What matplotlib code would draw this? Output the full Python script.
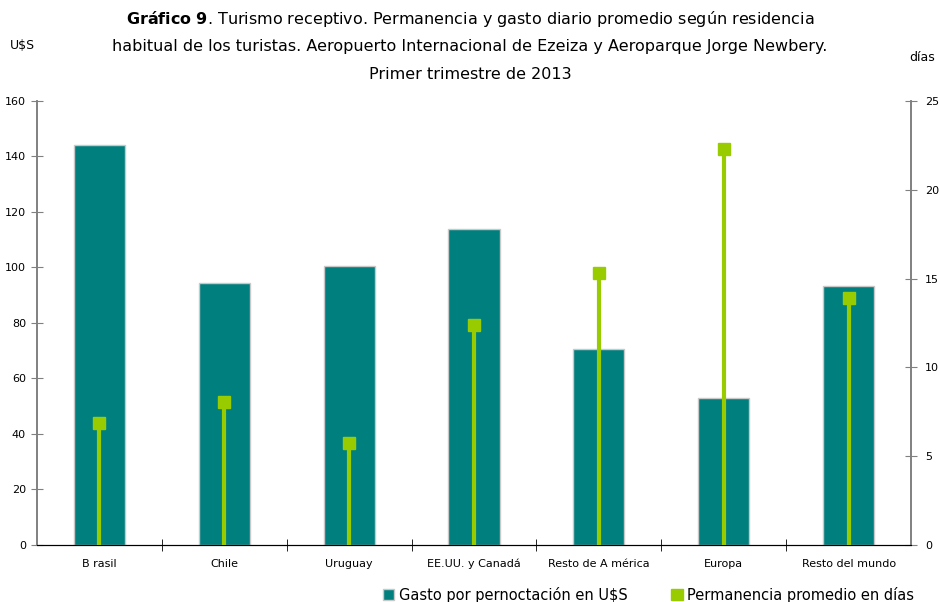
import matplotlib
matplotlib.use("Agg")
import matplotlib.pyplot as plt
import numpy as np
from matplotlib.patches import Patch

categories = ["B rasil", "Chile", "Uruguay", "EE.UU. y Canadá", "Resto de A mérica", "Europa", "Resto del mundo"]
gasto = [144.1, 94.4, 100.5, 113.9, 70.6, 53.0, 93.3]
permanencia = [6.87, 8.05, 5.74, 12.39, 15.3, 22.3, 13.9]

teal = "#007F7F"
green = "#99CC00"

plt.rcParams['font.family'] = ['DejaVu Sans']
fig = plt.figure(figsize=(9.4, 6.02), dpi=100)
ax = fig.add_axes([0.0394, 0.0947, 0.9298, 0.7376])
ax2 = ax.twinx()

x = np.arange(len(categories))
ax.bar(x, gasto, width=0.41, color=teal, edgecolor="#C8C8C8", linewidth=1.0, zorder=2)
ax.set_xlim(-0.5, len(categories) - 0.5)
ax.set_ylim(0, 160)
ax.set_yticks(range(0, 161, 20))
ax.set_yticklabels([str(v) for v in range(0, 161, 20)], fontsize=8)
ax.set_xticks(x)
ax.set_xticklabels(categories, fontsize=8)
ax.tick_params(axis="x", length=0, pad=10)
ax.set_xticks(np.arange(0.5, len(categories) - 1, 1), minor=True)
ax.tick_params(axis="x", which="minor", length=8, direction="inout", color="black")
ax.tick_params(axis="y", length=8, direction="inout", color="#808080", pad=4)

ax2.vlines(x, 0, permanencia, color=green, linewidth=3, zorder=3)
ax2.plot(x, permanencia, linestyle="none", marker="s", markersize=9, color=green, zorder=4)
ax2.set_ylim(0, 25)
ax2.set_yticks(range(0, 26, 5))
ax2.set_yticklabels([str(v) for v in range(0, 26, 5)], fontsize=8)
ax2.tick_params(axis="y", length=8, direction="inout", color="#808080", pad=6)

for a in (ax, ax2):
    a.spines["top"].set_visible(False)
    a.spines["left"].set_color("#808080")
    a.spines["right"].set_color("#808080")
    a.spines["bottom"].set_color("black")
    a.spines["left"].set_linewidth(1.2)
    a.spines["right"].set_linewidth(1.2)

fig.text(0.5, 0.968, r"$\bf{Gráfico\ 9}$. Turismo receptivo. Permanencia y gasto diario promedio según residencia",
         ha="center", va="center", fontsize=11.5)
fig.text(0.5, 0.922, "habitual de los turistas. Aeropuerto Internacional de Ezeiza y Aeroparque Jorge Newbery.",
         ha="center", va="center", fontsize=11.5)
fig.text(0.5, 0.877, "Primer trimestre de 2013", ha="center", va="center", fontsize=11.5)
fig.text(0.01, 0.925, "U$S", ha="left", va="center", fontsize=9)
fig.text(0.995, 0.905, "días", ha="right", va="center", fontsize=9)

handles = [Patch(facecolor=teal, edgecolor="#C8C8C8", label="Gasto por pernoctación en U$S"),
           Patch(facecolor=green, edgecolor=green, label="Permanencia promedio en días")]
fig.legend(handles=handles, loc="center", bbox_to_anchor=(0.69, 0.012), ncol=2, frameon=False,
           fontsize=10.5, handlelength=0.8, handleheight=0.8, handletextpad=0.3, columnspacing=3.0)

fig.savefig("out.png", dpi=100)
